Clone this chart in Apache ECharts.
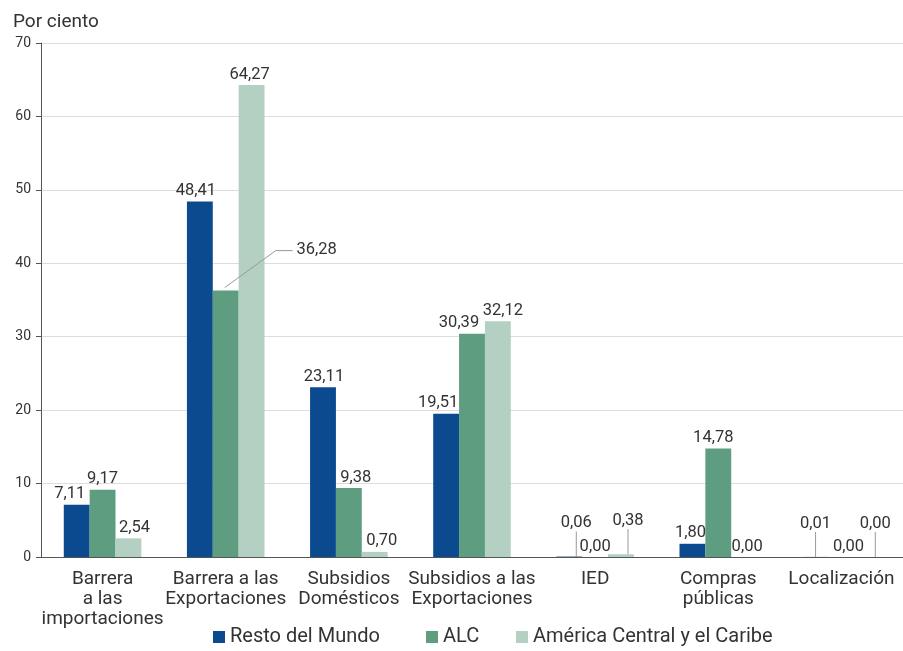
<!DOCTYPE html>
<html>
<head>
<meta charset="utf-8">
<script src="https://cdn.jsdelivr.net/npm/echarts@6/dist/echarts.min.js"></script>
<style>
html,body{margin:0;padding:0;background:#fff;}
#main{width:903px;height:651px;}
</style>
</head>
<body>
<div id="main"></div>
<script>
var categories = ["Barrera\na las\nimportaciones", "Barrera a las\nExportaciones", "Subsidios\nDomésticos", "Subsidios a las\nExportaciones", "IED", "Compras\npúblicas", "Localización"];
var seriesNames = ["Resto del Mundo", "ALC", "América Central y el Caribe"];
var restoMundo = [7.11, 48.41, 23.11, 19.51, 0.06, 1.80, 0.01];
var alc = [9.17, 36.28, 9.38, 30.39, 0.00, 14.78, 0.00];
var americaCentral = [2.54, 64.27, 0.70, 32.12, 0.38, 0.00, 0.00];
var yTicks = [0, 10, 20, 30, 40, 50, 60, 70];

var FONT = "'Roboto', 'Noto Sans', sans-serif";
var colors = ["#0b4a8e", "#5e9d7f", "#b4d0c2"];

// label shifts (pixels) per series, per category: [dx, dy]
var shiftResto = [[-7, 0], [-4, 0], [1, 0], [-8, 0], [7, -23], [-2, 0], [0, -23]];
var shiftAlc   = [[0, 0], [91, -30], [7, 0], [-13, 0], [0, 0], [-5, 0], [7, 0]];
var shiftAmc   = [[6, 0], [-2, 0], [7, 0], [5, 0], [7, -23], [3, 0], [8, -23]];
var shifts = [shiftResto, shiftAlc, shiftAmc];
// which labels get a vertical guide line to their bar
var guideResto = [4, 6];
var guideAmc = [4, 6];
var guides = [guideResto, [], guideAmc];

function buildData(arr, s) {
  return arr.map(function (v, d) {
    var item = { value: v };
    if (guides[s].indexOf(d) >= 0) {
      item.labelLine = { show: true, length2: 0, lineStyle: { color: '#999', width: 1 } };
    }
    return item;
  });
}
var allData = [restoMundo, alc, americaCentral];

var chart = echarts.init(document.getElementById('main'));
var series = allData.map(function (arr, s) {
  return {
    name: seriesNames[s],
    type: 'bar',
    data: buildData(arr, s),
    barGap: '0%',
    barCategoryGap: '37%',
    itemStyle: { color: colors[s] },
    label: {
      show: true,
      position: 'top',
      distance: 2,
      fontFamily: FONT,
      fontSize: 16.5,
      color: '#333',
      formatter: function (p) { return p.value.toFixed(2).replace('.', ','); }
    },
    labelLine: { show: false },
    labelLayout: function (params) {
      var sh = shifts[params.seriesIndex][params.dataIndex];
      return { dx: sh[0], dy: sh[1] };
    }
  };
});

// leader line for the ALC value in "Barrera a las Exportaciones"
series.push({
  type: 'custom',
  name: 'leader',
  silent: true,
  z: 5,
  data: [[1, alc[1]]],
  renderItem: function (params, api) {
    var p = api.coord([api.value(0), api.value(1)]);
    return {
      type: 'polyline',
      shape: { points: [[p[0] - 1, p[1] - 3], [p[0] + 50, p[1] - 40], [p[0] + 67, p[1] - 40]] },
      style: { stroke: '#999', fill: null, lineWidth: 1 }
    };
  }
});

function legendAt(name, left) {
  return {
    left: left,
    top: 622,
    itemWidth: 12,
    itemHeight: 12,
    icon: 'rect',
    textStyle: { fontFamily: FONT, fontSize: 20, color: '#333' },
    data: [name]
  };
}

chart.setOption({
  animation: false,
  textStyle: { fontFamily: FONT },
  title: {
    text: 'Por ciento',
    left: 8,
    top: 8,
    textStyle: { fontFamily: FONT, fontSize: 19, fontWeight: 'normal', color: '#333' }
  },
  legend: [legendAt(seriesNames[0], 208), legendAt(seriesNames[1], 421), legendAt(seriesNames[2], 511)],
  grid: { left: 41, top: 43, width: 868, height: 514, containLabel: false },
  xAxis: {
    type: 'category',
    data: categories,
    axisLine: { show: true, lineStyle: { color: '#555', width: 1 } },
    axisTick: { show: false },
    axisLabel: {
      interval: 0,
      fontFamily: FONT,
      fontSize: 19,
      color: '#333',
      lineHeight: 20,
      margin: 12
    }
  },
  yAxis: {
    type: 'value',
    min: yTicks[0],
    max: yTicks[yTicks.length - 1],
    interval: 10,
    axisLine: { show: true, lineStyle: { color: '#555', width: 1 } },
    axisTick: { show: true, length: 5, lineStyle: { color: '#555' } },
    axisLabel: { fontFamily: FONT, fontSize: 14, color: '#333', margin: 10 },
    splitLine: { show: true, lineStyle: { color: '#ddd', width: 1 } }
  },
  series: series
});
</script>
</body>
</html>
